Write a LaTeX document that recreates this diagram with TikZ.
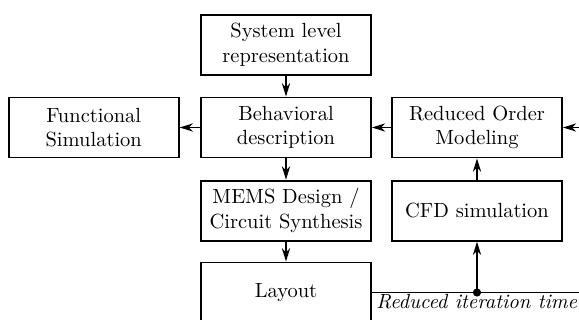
\documentclass[tikz,border=0pt]{standalone}
\usetikzlibrary{arrows.meta}
\begin{document}
\begin{tikzpicture}[x=0.4878pt,y=-0.4878pt,
  blk/.style={draw,line width=0.9pt,rectangle,minimum width=82.9pt,minimum height=29.3pt,inner sep=0pt,align=center},
  conn/.style={line width=0.9pt,-{Stealth[length=6.5pt,width=4pt,inset=2pt]}},
  plain/.style={line width=0.9pt}]
\useasboundingbox (0,0) rectangle (579,320);
\node[blk] (sys) at (286,45) {System level\\representation};
\node[blk] (beh) at (286,127.5) {Behavioral\\description};
\node[blk] (fun) at (93.7,127.5) {Functional\\Simulation};
\node[blk] (rom) at (477,127.5) {Reduced Order\\Modeling};
\node[blk] (mems) at (286,210.7) {MEMS Design /\\Circuit Synthesis};
\node[blk] (cfd) at (477,210.7) {CFD simulation};
\node[blk] (lay) at (286,292.5) {Layout};
\coordinate (rin) at (600,127.5);
\coordinate (rout) at (600,292.5);
\coordinate (dot) at (cfd.south |- lay.east);
\draw[conn] (sys) -- (beh);
\draw[conn] (beh) -- (mems);
\draw[conn] (mems) -- (lay);
\draw[conn] (beh) -- (fun);
\draw[conn] (rom) -- (beh);
\draw[conn] (cfd) -- (rom);
\draw[conn] (rin) -- (rom);
\draw[plain] (lay.east) -- (rout);
\draw[conn] (dot) -- (cfd);
\fill (dot) circle (2pt);
\node[anchor=base west,inner sep=0pt] (lbl) at (376,309) {\itshape Reduced iteration time};
\end{tikzpicture}
\end{document}
